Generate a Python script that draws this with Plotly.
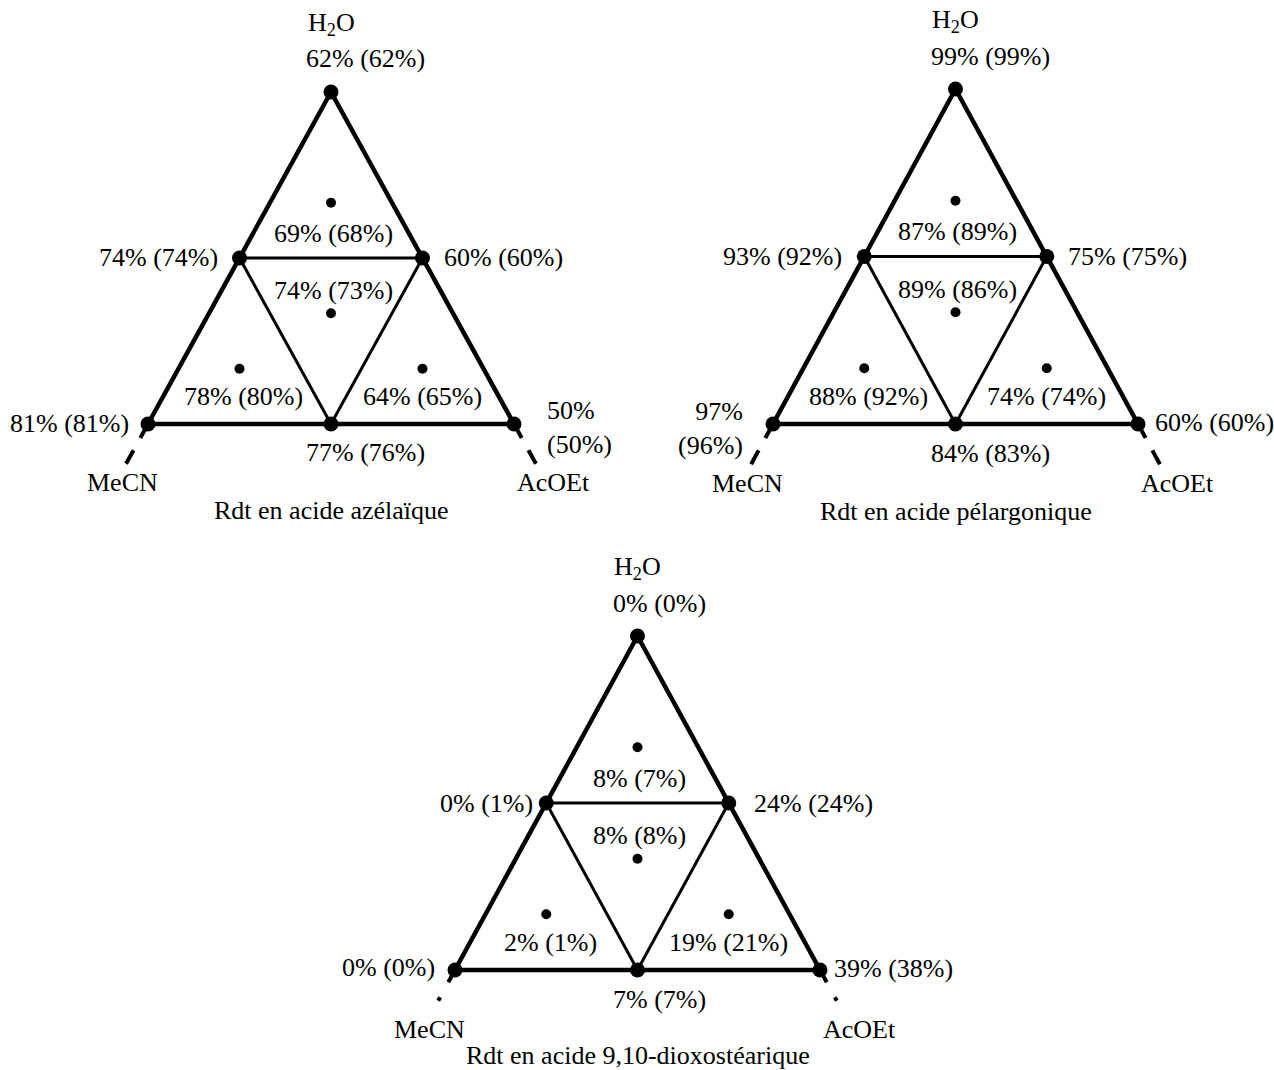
import plotly.graph_objects as go

# ---- data -------------------------------------------------------------
# 10 compositions (fractions): 3 pure solvents, 3 binary 1:1, 4 ternary centroids
point_names = ["H2O", "H2O/MeCN", "H2O/AcOEt", "MeCN", "MeCN/AcOEt", "AcOEt",
               "c_haut", "c_centre", "c_gauche", "c_droite"]
frac_h2o = [1, 1/2, 1/2, 0, 0, 0, 2/3, 1/3, 1/6, 1/6]
frac_mecn = [0, 1/2, 0, 1, 1/2, 0, 1/6, 1/3, 2/3, 1/6]
frac_acoet = [0, 0, 1/2, 0, 1/2, 1, 1/6, 1/3, 1/6, 2/3]

rdt_azelaique = [62, 74, 60, 81, 77, 50, 69, 74, 78, 64]
rdt_azelaique_par = [62, 74, 60, 81, 76, 50, 68, 73, 80, 65]
rdt_pelargonique = [99, 93, 75, 97, 84, 60, 87, 89, 88, 74]
rdt_pelargonique_par = [99, 92, 75, 96, 83, 60, 89, 86, 92, 74]
rdt_dioxo = [0, 0, 24, 0, 7, 39, 8, 8, 2, 19]
rdt_dioxo_par = [0, 1, 24, 0, 7, 38, 7, 8, 1, 21]

titles = ["Rdt en acide azélaïque", "Rdt en acide pélargonique",
          "Rdt en acide 9,10-dioxostéarique"]
vertex_labels = ["H<sub>2</sub>O", "MeCN", "AcOEt"]

# edges (indices into points)
outer_edge = [0, 3, 5, 0]
inner_edge = [1, 2, 4, 1]
# extension beyond the two lower corners (composition, outside the triangle)
ext_left = {"h2o": [0, -0.12], "mecn": [1, 1.12], "acoet": [0, 0]}
ext_right = {"h2o": [0, -0.12], "mecn": [0, 0], "acoet": [1, 1.12]}

# ---- layout / style ---------------------------------------------------
FIG_W, FIG_H = 1274, 1070
FONT = dict(family="Liberation Serif, Times New Roman, serif", size=26, color="black")
PAD = dict(xl=0.2, xr=0.2, yb=0.2, yt=0.12)

panels = [
    dict(left=148, width=366, base=424, height=332, vals=rdt_azelaique,
         par=rdt_azelaique_par, wrap=[5], dash="16px,14px,17px", title_shift=-87,
         over={5: ("left", 31, -4, "left")}),
    dict(left=773, width=365, base=424, height=335, vals=rdt_pelargonique,
         par=rdt_pelargonique_par, wrap=[3], dash="16px,14px,17px", title_shift=-87,
         over={3: ("right", -28, -4, "right"), 5: ("left", 15, 2, "center")}),
    dict(left=455, width=365, base=970, height=334, vals=rdt_dioxo,
         par=rdt_dioxo_par, wrap=[], dash="14px,17px,4px", title_shift=-85,
         over={1: ("right", -11, 0, "center"), 2: ("left", 23, 0, "center"),
               3: ("right", -18, 3, "center"), 5: ("left", 12, 2, "center")}),
]

label_style = {  # index: (xanchor, xshift, yshift, align)
    0: ("left", -27, 33, "center"),
    1: ("right", -20, 0, "center"),
    2: ("left", 19, 0, "center"),
    3: ("right", -17, 0, "center"),
    4: ("left", -27, -29, "center"),
    5: ("left", 17, 2, "center"),
    6: ("center", 2, -31, "center"),
    7: ("center", 2, 23, "center"),
    8: ("center", 4, -28, "center"),
    9: ("center", 0, -28, "center"),
}


def to_xy(h, m, a):
    # barycentric -> cartesian on a unit-width triangle, height 1
    x = [ai + 0.5 * hi for hi, ai in zip(h, a)]
    y = list(h)
    return x, y


fig = go.Figure()
annotations = []
for k, p in enumerate(panels):
    sfx = "" if k == 0 else str(k + 1)
    xa, ya = "x" + sfx, "y" + sfx
    L, W, B, H = p["left"], p["width"], p["base"], p["height"]
    xdom = [(L - PAD["xl"] * W) / FIG_W, (L + (1 + PAD["xr"]) * W) / FIG_W]
    ydom = [1 - (B + PAD["yb"] * H) / FIG_H, 1 - (B - (1 + PAD["yt"]) * H) / FIG_H]
    fig.layout["xaxis" + sfx] = dict(domain=xdom, range=[-PAD["xl"], 1 + PAD["xr"]],
                                     visible=False, fixedrange=True)
    fig.layout["yaxis" + sfx] = dict(domain=ydom, range=[-PAD["yb"], 1 + PAD["yt"]],
                                     visible=False, fixedrange=True)

    X, Y = to_xy(frac_h2o, frac_mecn, frac_acoet)

    # dashed extensions at the lower corners
    for ext in (ext_left, ext_right):
        ex, ey = to_xy(ext["h2o"], ext["mecn"], ext["acoet"])
        fig.add_trace(go.Scatter(x=ex, y=ey, mode="lines", xaxis=xa, yaxis=ya,
                                 line=dict(color="black", width=4, dash=p["dash"]),
                                 hoverinfo="skip", showlegend=False))
    # inner lines
    fig.add_trace(go.Scatter(x=[X[i] for i in inner_edge], y=[Y[i] for i in inner_edge],
                             mode="lines", xaxis=xa, yaxis=ya,
                             line=dict(color="black", width=3),
                             hoverinfo="skip", showlegend=False))
    # outer triangle
    fig.add_trace(go.Scatter(x=[X[i] for i in outer_edge], y=[Y[i] for i in outer_edge],
                             mode="lines", xaxis=xa, yaxis=ya,
                             line=dict(color="black", width=4.5),
                             hoverinfo="skip", showlegend=False))
    # points
    fig.add_trace(go.Scatter(x=X[:6], y=Y[:6], mode="markers", xaxis=xa, yaxis=ya,
                             marker=dict(color="black", size=15), cliponaxis=False,
                             hoverinfo="skip", showlegend=False))
    fig.add_trace(go.Scatter(x=X[6:], y=Y[6:], mode="markers", xaxis=xa, yaxis=ya,
                             marker=dict(color="black", size=10), cliponaxis=False,
                             hoverinfo="skip", showlegend=False))

    # value labels
    for i in range(10):
        xanchor, xs, ys, align = p["over"].get(i, label_style[i])
        sep = "<br>" if i in p["wrap"] else " "
        txt = f"{p['vals'][i]}%{sep}({p['par'][i]}%)"
        annotations.append(dict(x=X[i], y=Y[i], xref=xa, yref=ya, text=txt,
                                showarrow=False, xanchor=xanchor, yanchor="middle",
                                xshift=xs, yshift=ys, align=align, font=FONT))
    # solvent labels
    annotations.append(dict(x=X[0], y=Y[0], xref=xa, yref=ya, text=vertex_labels[0],
                            showarrow=False, xanchor="center", yanchor="middle",
                            xshift=0, yshift=68, font=FONT))
    annotations.append(dict(x=X[3], y=Y[3], xref=xa, yref=ya, text=vertex_labels[1],
                            showarrow=False, xanchor="center", yanchor="middle",
                            xshift=-26, yshift=-59, font=FONT))
    annotations.append(dict(x=X[5], y=Y[5], xref=xa, yref=ya, text=vertex_labels[2],
                            showarrow=False, xanchor="center", yanchor="middle",
                            xshift=39, yshift=-59, font=FONT))
    # title
    annotations.append(dict(x=X[4], y=Y[4], xref=xa, yref=ya, text=titles[k],
                            showarrow=False, xanchor="center", yanchor="middle",
                            xshift=0, yshift=p["title_shift"], font=FONT))

fig.update_layout(width=FIG_W, height=FIG_H, margin=dict(l=0, r=0, t=0, b=0),
                  paper_bgcolor="white", plot_bgcolor="white",
                  annotations=annotations, showlegend=False)
fig.write_html("out.html", config={"displayModeBar": False},
               post_script="document.body.style.margin='0px';"
                           "document.body.style.overflow='hidden';")
